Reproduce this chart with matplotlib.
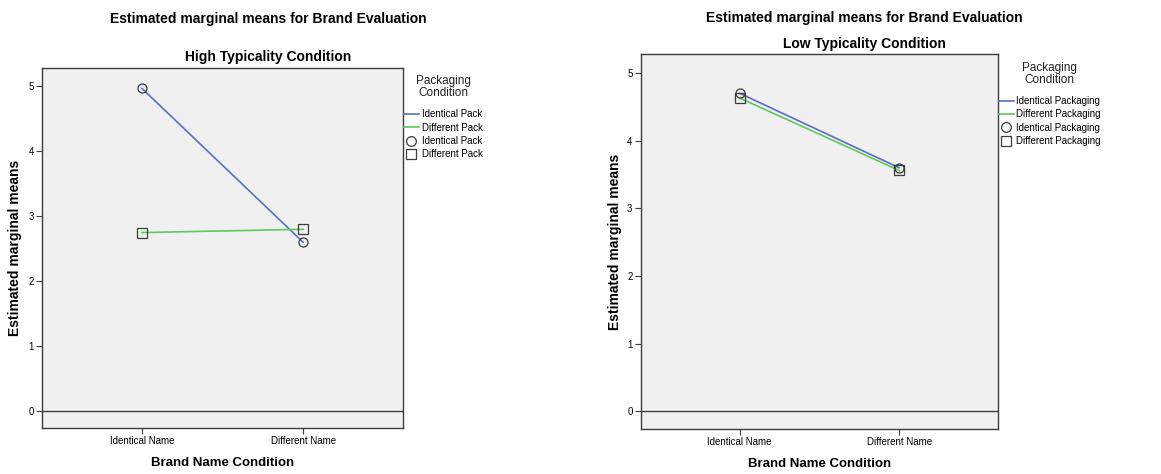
import matplotlib
matplotlib.use("Agg")
import matplotlib.pyplot as plt
from matplotlib.lines import Line2D

plt.rcParams['font.family'] = ['Liberation Sans', 'DejaVu Sans']

brand_names = ["Identical Name", "Different Name"]
suptitle = "Estimated marginal means for Brand Evaluation"

# High typicality condition
high_identical = [4.97, 2.60]
high_different = [2.75, 2.80]
high_labels = ["Identical Pack", "Different Pack"]

# Low typicality condition
low_identical = [4.70, 3.60]
low_different = [4.63, 3.56]
low_labels = ["Identical Packaging", "Different Packaging"]

BLUE = "#5a6fc0"
GREEN = "#5cc95c"
BG = "#f0f0f0"
EDGE = "#3c3c3c"

fig = plt.figure(figsize=(11.61, 4.74), dpi=100)

panels = [
    dict(rect=[0.0362, 0.097, 0.311, 0.759], sub="High Typicality Condition",
         ident=high_identical, diff=high_different, labels=high_labels,
         sup_xy=(268, 19), sub_y=57, ylab_x=15, leg_title=(443, 87), leg_y=0.886),
    dict(rect=[0.552, 0.095, 0.3075, 0.791], sub="Low Typicality Condition",
         ident=low_identical, diff=low_different, labels=low_labels,
         sup_xy=(864, 18), sub_y=44, ylab_x=615, leg_title=(1049, 74), leg_y=0.888),
]

W, H = 1161, 474
for p in panels:
    ax = fig.add_axes(p["rect"])
    ax.set_facecolor(BG)
    x = range(len(brand_names))
    ax.plot(x, p["ident"], color=BLUE, lw=1.2, zorder=3)
    ax.plot(x, p["diff"], color=GREEN, lw=1.2, zorder=3)
    ax.plot(x, p["ident"], ls="none", marker="o", ms=6.5, mfc="none",
            mec=EDGE, mew=0.9, zorder=4)
    ax.plot(x, p["diff"], ls="none", marker="s", ms=6.5, mfc="none",
            mec=EDGE, mew=0.9, zorder=4)
    ax.axhline(0, color=EDGE, lw=1.0, zorder=2)
    ax.set_xlim(-0.62, 1.62)
    ax.set_ylim(-0.26, 5.28)
    ax.set_xticks(list(x))
    ax.set_xticklabels(brand_names)
    ax.set_yticks([0, 1, 2, 3, 4, 5])
    ax.tick_params(axis="both", labelsize=7, length=4, width=0.8,
                   color=EDGE, pad=2)
    for s in ax.spines.values():
        s.set_color(EDGE)
        s.set_linewidth(1.0)
    ax.set_xlabel("Brand Name Condition", fontsize=9.5, fontweight="bold",
                  labelpad=8)

    fig.text(p["sup_xy"][0] / W, 1 - p["sup_xy"][1] / H, suptitle,
             fontsize=10, fontweight="bold", ha="center", va="center")
    fig.text(p["sup_xy"][0] / W, 1 - p["sub_y"] / H, p["sub"],
             fontsize=10, fontweight="bold", ha="center", va="center")
    fig.text(p["ylab_x"] / W, p["rect"][1] + p["rect"][3] * 0.5,
             "Estimated marginal means", fontsize=10, fontweight="bold",
             rotation=90, ha="center", va="center")
    fig.text(p["leg_title"][0] / W, 1 - p["leg_title"][1] / H,
             "Packaging\nCondition", fontsize=8.5, ha="center", va="center",
             multialignment="center", linespacing=1.0, color="#222222")

    handles = [
        Line2D([], [], color=BLUE, lw=1.2),
        Line2D([], [], color=GREEN, lw=1.2),
        Line2D([], [], ls="none", marker="o", ms=7, mfc="none", mec=EDGE, mew=0.9),
        Line2D([], [], ls="none", marker="s", ms=7, mfc="none", mec=EDGE, mew=0.9),
    ]
    ax.legend(handles, p["labels"] + p["labels"], loc="upper left",
              bbox_to_anchor=(1.003, p["leg_y"]), frameon=False,
              fontsize=7, handlelength=1.5, handletextpad=0.3,
              labelspacing=0.35, borderpad=0, borderaxespad=0)

fig.savefig("out.png", dpi=100)
